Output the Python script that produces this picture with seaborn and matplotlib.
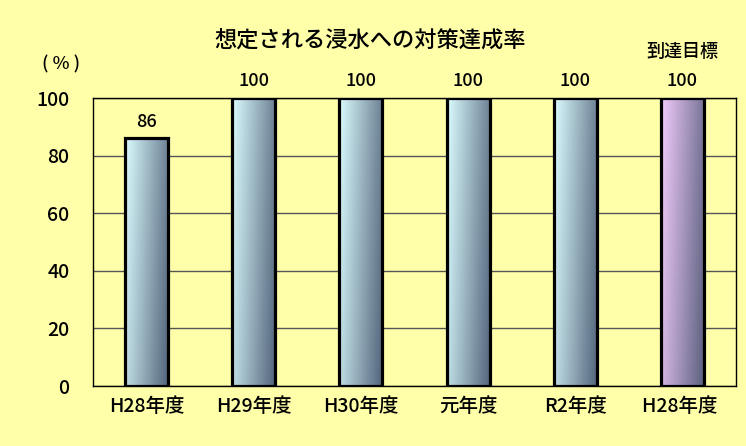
import numpy as np
import pandas as pd
import matplotlib
matplotlib.use("Agg")
import matplotlib.pyplot as plt
import seaborn as sns
from matplotlib.ticker import FixedLocator

categories = ["H28年度", "H29年度", "H30年度", "元年度", "R2年度", "H28年度 "]
values = [86, 100, 100, 100, 100, 100]
bar_labels = ["86", "100", "100", "100", "100", "100"]
target_label = "到達目標"
yticks = [0, 20, 40, 60, 80, 100]
title = "想定される浸水への対策達成率"

sns.set_theme(style="white")
plt.rcParams['font.family'] = ['Noto Sans CJK JP', 'DejaVu Sans']
plt.rcParams['font.weight'] = 'medium'

BG = "#FFFFAA"
fig = plt.figure(figsize=(7.46, 4.46), dpi=100, facecolor=BG)
ax = fig.add_axes([93/746, 1-386/446, (736-93)/746, (386-98)/446])
ax.set_facecolor(BG)

df = pd.DataFrame({"cat": categories, "val": values})
sns.barplot(data=df, x="cat", y="val", ax=ax, width=0.4,
            facecolor="none", edgecolor="black", linewidth=2.3, zorder=3)

ax.set_ylim(0, 100)
ax.set_xlim(-0.5, len(categories) - 0.5)
ax.set_yticks(yticks)
ax.yaxis.grid(True, color="#555555", linewidth=1.0)
ax.set_axisbelow(True)
for s in ax.spines.values():
    s.set_color("black"); s.set_linewidth(1.0); s.set_visible(True)

ax.set_xlabel(""); ax.set_ylabel("")
ax.tick_params(axis="y", length=0, pad=17, labelsize=14, labelcolor="black")
ax.tick_params(axis="x", which="major", length=0, pad=8, labelsize=14, labelcolor="black")
ax.xaxis.set_minor_locator(FixedLocator(np.arange(0.5, len(categories) - 1, 1.0)))
ax.tick_params(axis="x", which="minor", direction="in", length=5, width=1, color="black")

# gradient fills
def grad(c0, c1, n=64):
    u = np.linspace(0, 1, n)[None, :]
    v = np.linspace(0, 1, n)[:, None]
    t = np.clip(0.8 * u + 0.2 * v, 0, 1)[..., None]
    return (1 - t) * np.array(c0) + t * np.array(c1)

cyan = grad((0.86, 0.99, 1.0), (0.33, 0.40, 0.49))
pink = grad((0.95, 0.80, 0.99), (0.36, 0.38, 0.50))

n = len(values)
for i, p in enumerate(ax.patches[:n]):
    x0, y0 = p.get_x(), p.get_y()
    w, h = p.get_width(), p.get_height()
    img = ax.imshow(pink if i == n - 1 else cyan,
                    extent=[x0, x0 + w, y0, y0 + h], origin="upper",
                    aspect="auto", zorder=2.5, interpolation="bilinear")
    img.set_clip_path(p)
    ax.annotate(bar_labels[i], (x0 + w / 2, y0 + h), xytext=(0, 12),
                textcoords="offset points", ha="center", va="center",
                fontsize=13, color="black", annotation_clip=False)
    if i == n - 1:
        ax.annotate(target_label, (x0 + w / 2, y0 + h), xytext=(0, 33),
                    textcoords="offset points", ha="center", va="center",
                    fontsize=13, color="black", annotation_clip=False)
ax.set_xlim(-0.5, len(categories) - 0.5)
ax.set_ylim(0, 100)

fig.text(370/746, 1-40/446, title, ha="center", va="center", fontsize=16, color="black")
fig.text(61/746, 1-64/446, "( % )", ha="center", va="center", fontsize=13, color="black")

fig.savefig("out.png", dpi=100, facecolor=BG)
